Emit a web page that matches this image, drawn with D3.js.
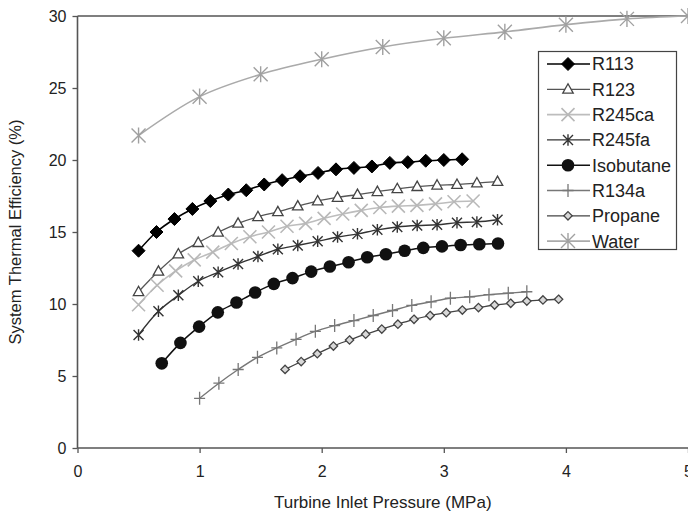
<!DOCTYPE html>
<html><head><meta charset="utf-8">
<script src="https://cdn.jsdelivr.net/npm/d3@7"></script>
<style>body{margin:0;background:#fff}svg{display:block;font-family:"Liberation Sans",Arial,sans-serif}</style>
</head><body><svg id="c" width="688" height="518"></svg>
<script>
const seriesNames = ["R113","R123","R245ca","R245fa","Isobutane","R134a","Propane","Water"];
const xR113 = [0.5,0.647,0.794,0.941,1.088,1.235,1.382,1.529,1.676,1.823,1.97,2.117,2.264,2.411,2.558,2.705,2.852,3.0,3.15];
const yR113 = [13.7,15.0,15.9,16.6,17.15,17.6,17.9,18.3,18.6,18.87,19.1,19.35,19.45,19.55,19.8,19.85,19.95,20.0,20.05];
const xR123 = [0.5,0.663,0.826,0.989,1.152,1.315,1.478,1.641,1.804,1.967,2.13,2.293,2.456,2.619,2.782,2.945,3.108,3.271,3.44];
const yR123 = [10.85,12.27,13.47,14.26,14.98,15.6,16.06,16.4,16.8,17.15,17.4,17.6,17.8,18.0,18.15,18.25,18.3,18.4,18.5];
const xR245ca = [0.5,0.652,0.804,0.956,1.108,1.26,1.412,1.564,1.716,1.868,2.02,2.172,2.324,2.476,2.628,2.78,2.932,3.084,3.24];
const yR245ca = [9.95,11.3,12.3,13.06,13.6,14.2,14.67,15.0,15.4,15.6,15.95,16.25,16.5,16.7,16.8,16.85,16.95,17.1,17.15];
const xR245fa = [0.5,0.663,0.826,0.989,1.152,1.315,1.478,1.641,1.804,1.967,2.13,2.293,2.456,2.619,2.782,2.945,3.108,3.271,3.44];
const yR245fa = [7.85,9.5,10.6,11.58,12.2,12.78,13.3,13.8,14.07,14.35,14.65,14.87,15.15,15.35,15.45,15.5,15.65,15.7,15.85];
const xIsobutane = [0.69,0.843,0.996,1.149,1.302,1.455,1.608,1.761,1.914,2.067,2.22,2.373,2.526,2.679,2.832,2.985,3.138,3.291,3.444];
const yIsobutane = [5.88,7.3,8.43,9.42,10.1,10.8,11.4,11.8,12.25,12.6,12.9,13.25,13.45,13.7,13.9,14.0,14.1,14.15,14.2];
const xR134a = [1.0,1.158,1.316,1.474,1.632,1.79,1.948,2.106,2.264,2.422,2.58,2.738,2.896,3.054,3.212,3.37,3.528,3.68];
const yR134a = [3.45,4.5,5.45,6.3,6.95,7.55,8.1,8.5,8.85,9.2,9.55,9.9,10.15,10.4,10.5,10.65,10.75,10.85];
const xPropane = [1.7,1.832,1.964,2.096,2.228,2.36,2.492,2.624,2.756,2.888,3.02,3.152,3.284,3.416,3.548,3.68,3.812,3.94];
const yPropane = [5.46,6.0,6.55,7.08,7.5,7.9,8.26,8.6,8.94,9.2,9.4,9.58,9.75,9.93,10.05,10.2,10.28,10.33];
const xWater = [0.5,1.0,1.5,2.0,2.5,3.0,3.5,4.0,4.5,5.0];
const yWater = [21.7,24.4,25.95,27.0,27.85,28.45,28.9,29.4,29.8,30.0];
const xTicks = [0,1,2,3,4,5];
const yTicks = [0,5,10,15,20,25,30];

const xs = [xR113,xR123,xR245ca,xR245fa,xIsobutane,xR134a,xPropane,xWater];
const ys = [yR113,yR123,yR245ca,yR245fa,yIsobutane,yR134a,yPropane,yWater];
const styles = [
  {line:"#000", lw:1.6, m:"diamond", stroke:"#000", fill:"#000", s:6.5},
  {line:"#555", lw:1.3, m:"triangle", stroke:"#444", fill:"#fff", s:5.5},
  {line:"#bdbdbd", lw:1.6, m:"x", stroke:"#b8b8b8", fill:"none", s:6.5},
  {line:"#333", lw:1.4, m:"star", stroke:"#333", fill:"none", s:5},
  {line:"#111", lw:1.5, m:"circle", stroke:"#111", fill:"#111", s:6.3},
  {line:"#777", lw:1.4, m:"plus", stroke:"#777", fill:"none", s:6.5},
  {line:"#444", lw:1.3, m:"smalldiamond", stroke:"#444", fill:"#d8d8d8", s:4.2},
  {line:"#aaa", lw:1.6, m:"star", stroke:"#a0a0a0", fill:"none", s:7}
];

const svg = d3.select("#c");
const x = d3.scaleLinear().domain([0,5]).range([77.5,688]);
const y = d3.scaleLinear().domain([0,30]).range([448,16]);

// axes
const gx = svg.append("g").attr("transform","translate(0,448)")
  .call(d3.axisBottom(x).tickValues(xTicks).tickSize(5).tickPadding(13).tickFormat(d3.format("d")));
const gy = svg.append("g").attr("transform","translate(77.5,0)")
  .call(d3.axisLeft(y).tickValues(yTicks).tickSize(5).tickPadding(6).tickFormat(d3.format("d")));
[gx,gy].forEach(g=>{
  g.select(".domain").attr("stroke","#555").attr("stroke-width",1.6);
  g.selectAll(".tick line").attr("stroke","#555").attr("stroke-width",1.3);
  g.selectAll(".tick text").attr("fill","#222").attr("font-size",16).attr("font-family","Liberation Sans, Arial, sans-serif");
});
gy.select(".domain").attr("d",`M0,${y(30)}V${y(0)}`);
gx.select(".domain").attr("d",`M${x(0)},0H${x(5)}`);
// top border of plot area
svg.append("line").attr("x1",x(0)).attr("x2",x(5)).attr("y1",y(30)).attr("y2",y(30))
  .attr("stroke","#555").attr("stroke-width",1.6);

// titles
svg.append("text").attr("x",(x(0)+x(5))/2).attr("y",508).attr("text-anchor","middle")
  .attr("font-size",17).attr("fill","#222").text("Turbine Inlet Pressure (MPa)");
svg.append("text").attr("transform",`translate(21,${(y(0)+y(30))/2}) rotate(-90)`).attr("text-anchor","middle")
  .attr("font-size",16.5).attr("fill","#222").text("System Thermal Efficiency (%)");

function marker(g, st){
  const s = st.s;
  switch(st.m){
    case "diamond": g.append("path").attr("d",`M0,${-s}L${s},0L0,${s}L${-s},0Z`).attr("fill",st.fill).attr("stroke",st.stroke); break;
    case "smalldiamond": g.append("path").attr("d",`M0,${-s}L${s},0L0,${s}L${-s},0Z`).attr("fill",st.fill).attr("stroke",st.stroke).attr("stroke-width",1.3); break;
    case "triangle": g.append("path").attr("d",`M0,${-s}L${s*0.95},${s*0.7}L${-s*0.95},${s*0.7}Z`).attr("fill",st.fill).attr("stroke",st.stroke).attr("stroke-width",1.3); break;
    case "circle": g.append("circle").attr("r",s).attr("fill",st.fill); break;
    case "x": g.append("path").attr("d",`M${-s},${-s}L${s},${s}M${-s},${s}L${s},${-s}`).attr("stroke",st.stroke).attr("stroke-width",1.6); break;
    case "plus": g.append("path").attr("d",`M0,${-s}V${s}M${-s*0.85},0H${s*0.85}`).attr("stroke",st.stroke).attr("stroke-width",1.3); break;
    case "star": g.append("path").attr("d",`M${-s},${-s}L${s},${s}M${-s},${s}L${s},${-s}M0,${-s*1.15}V${s*1.15}`).attr("stroke",st.stroke).attr("stroke-width",1.4); break;
  }
}

const line = d3.line().x(d=>x(d[0])).y(d=>y(d[1])).curve(d3.curveCatmullRom.alpha(0.5));
const plot = svg.append("g");
seriesNames.forEach((name,i)=>{
  const pts = xs[i].map((v,j)=>[v,ys[i][j]]);
  const st = styles[i];
  const g = plot.append("g");
  g.append("path").attr("d",line(pts)).attr("fill","none").attr("stroke",st.line).attr("stroke-width",st.lw);
  pts.forEach(p=>{
    const m = g.append("g").attr("transform",`translate(${x(p[0])},${y(p[1])})`);
    marker(m, st);
  });
});

// legend
const lg = svg.append("g");
lg.append("rect").attr("x",538.5).attr("y",51.5).attr("width",138).attr("height",198)
  .attr("fill","#fff").attr("stroke","#444").attr("stroke-width",1.2);
seriesNames.forEach((name,i)=>{
  const yy = 64 + i*25.3;
  const st = styles[i];
  lg.append("line").attr("x1",547).attr("x2",590).attr("y1",yy).attr("y2",yy).attr("stroke",st.line).attr("stroke-width",st.lw);
  const m = lg.append("g").attr("transform",`translate(568,${yy})`);
  marker(m, st);
  lg.append("text").attr("x",592).attr("y",yy).attr("dy","0.36em").attr("font-size",18).attr("fill","#222").text(name);
});
</script></body></html>
